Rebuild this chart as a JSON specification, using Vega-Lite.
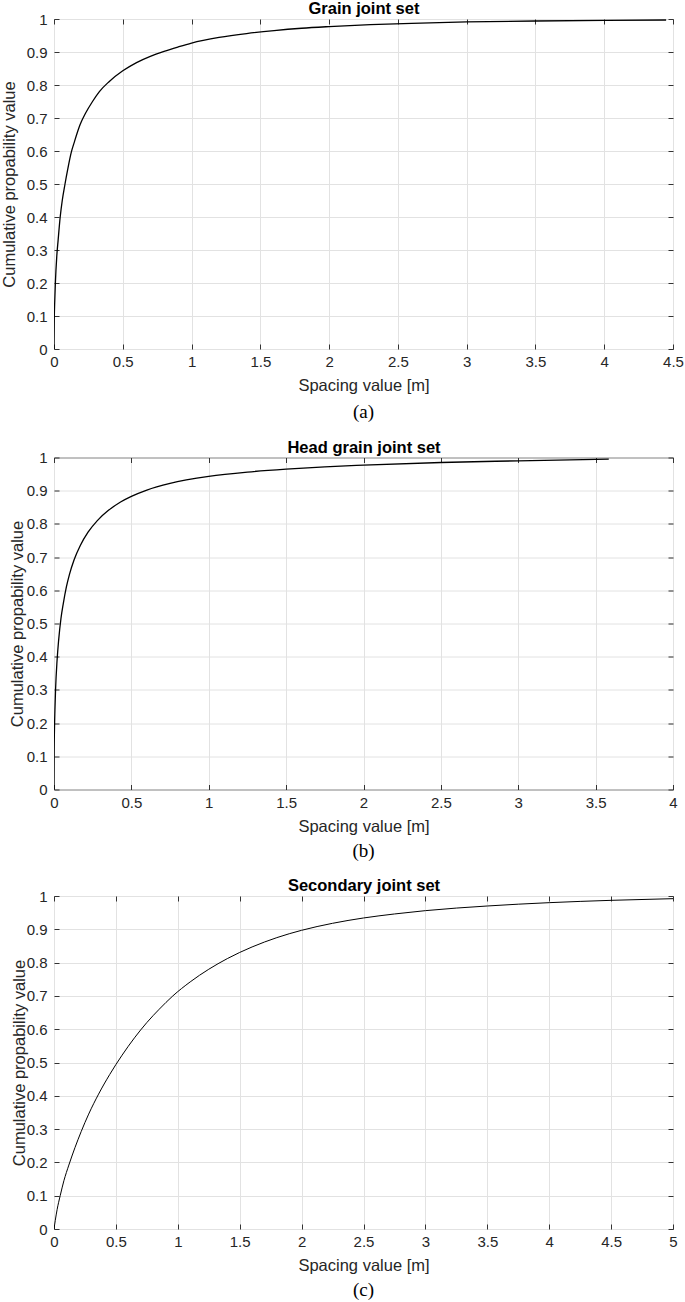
{
  "$schema": "https://vega.github.io/schema/vega-lite/v6.json",
  "background": "white",
  "padding": {"left": 0, "top": 0, "right": 0, "bottom": 0},
  "spacing": 15.5,
  "config": {
    "view": {"stroke": "#404040", "strokeWidth": 1},
    "axis": {
      "domain": false,
      "grid": true,
      "gridColor": "#e2e2e2",
      "gridWidth": 1,
      "tickColor": "#333333",
      "tickSize": -5,
      "tickWidth": 1,
      "labelFont": "Liberation Sans",
      "labelFontSize": 15,
      "labelColor": "#262626",
      "labelPadding": 12,
      "labelFlush": false,
      "labelOverlap": false,
      "titleFont": "Liberation Sans",
      "titleFontSize": 16.5,
      "titleFontWeight": "normal",
      "titleColor": "#262626",
      "minExtent": 0
    },
    "axisX": {"labelPadding": 10.5},
    "title": {"font": "Liberation Serif", "fontSize": 19, "fontWeight": "normal", "color": "#000000", "orient": "bottom", "anchor": "middle", "frame": "group", "offset": 9}
  },
  "datasets": {
    "a": [
      {"s": 0, "p": 0}, {"s": 0.002, "p": 0.09}, {"s": 0.005, "p": 0.14}, {"s": 0.01, "p": 0.2},
      {"s": 0.02, "p": 0.28}, {"s": 0.03, "p": 0.33}, {"s": 0.045, "p": 0.4}, {"s": 0.06, "p": 0.45},
      {"s": 0.08, "p": 0.5}, {"s": 0.1, "p": 0.545}, {"s": 0.125, "p": 0.595}, {"s": 0.15, "p": 0.63},
      {"s": 0.19, "p": 0.68}, {"s": 0.23, "p": 0.715}, {"s": 0.28, "p": 0.75}, {"s": 0.33, "p": 0.78},
      {"s": 0.4, "p": 0.81}, {"s": 0.5, "p": 0.843}, {"s": 0.6, "p": 0.868}, {"s": 0.7, "p": 0.887},
      {"s": 0.8, "p": 0.902}, {"s": 0.9, "p": 0.915}, {"s": 1.0, "p": 0.927}, {"s": 1.2, "p": 0.944},
      {"s": 1.4, "p": 0.956}, {"s": 1.6, "p": 0.965}, {"s": 1.8, "p": 0.972}, {"s": 2.0, "p": 0.977},
      {"s": 2.3, "p": 0.983}, {"s": 2.6, "p": 0.987}, {"s": 3.0, "p": 0.991}, {"s": 3.5, "p": 0.994},
      {"s": 4.0, "p": 0.996}, {"s": 4.45, "p": 0.997}
    ],
    "b": [
      {"s": 0, "p": 0}, {"s": 0.001, "p": 0.11}, {"s": 0.003, "p": 0.18}, {"s": 0.006, "p": 0.24},
      {"s": 0.01, "p": 0.3}, {"s": 0.02, "p": 0.39}, {"s": 0.03, "p": 0.45}, {"s": 0.045, "p": 0.515},
      {"s": 0.06, "p": 0.56}, {"s": 0.08, "p": 0.61}, {"s": 0.1, "p": 0.648}, {"s": 0.13, "p": 0.692},
      {"s": 0.17, "p": 0.735}, {"s": 0.22, "p": 0.775}, {"s": 0.28, "p": 0.81}, {"s": 0.35, "p": 0.84},
      {"s": 0.43, "p": 0.866}, {"s": 0.5, "p": 0.883}, {"s": 0.6, "p": 0.902}, {"s": 0.75, "p": 0.922},
      {"s": 1.0, "p": 0.943}, {"s": 1.25, "p": 0.956}, {"s": 1.5, "p": 0.965}, {"s": 1.75, "p": 0.972},
      {"s": 2.0, "p": 0.977}, {"s": 2.5, "p": 0.985}, {"s": 3.0, "p": 0.99}, {"s": 3.585, "p": 0.995}
    ],
    "c": [
      {"s": 0, "p": 0}, {"s": 0.01, "p": 0.025}, {"s": 0.025, "p": 0.058}, {"s": 0.05, "p": 0.1},
      {"s": 0.08, "p": 0.145}, {"s": 0.12, "p": 0.192}, {"s": 0.17, "p": 0.245}, {"s": 0.22, "p": 0.293},
      {"s": 0.28, "p": 0.345}, {"s": 0.36, "p": 0.405}, {"s": 0.45, "p": 0.464}, {"s": 0.55, "p": 0.522},
      {"s": 0.65, "p": 0.574}, {"s": 0.75, "p": 0.62}, {"s": 0.85, "p": 0.66}, {"s": 0.96, "p": 0.7},
      {"s": 1.1, "p": 0.742}, {"s": 1.25, "p": 0.78}, {"s": 1.4, "p": 0.812}, {"s": 1.6, "p": 0.847},
      {"s": 1.8, "p": 0.875}, {"s": 2.0, "p": 0.897}, {"s": 2.25, "p": 0.918}, {"s": 2.5, "p": 0.934},
      {"s": 2.75, "p": 0.946}, {"s": 3.0, "p": 0.956}, {"s": 3.5, "p": 0.97}, {"s": 4.0, "p": 0.98},
      {"s": 4.5, "p": 0.987}, {"s": 5.0, "p": 0.992}
    ]
  },
  "vconcat": [
    {
      "width": 619,
      "height": 330,
      "title": {"text": "(a)"},
      "data": {"name": "a"},
      "resolve": {"axis": {"x": "independent", "y": "independent"}},
      "layer": [
        {
          "mark": {"type": "line", "color": "#000000", "strokeWidth": 1.3, "interpolate": "monotone", "clip": true},
          "encoding": {
            "x": {"field": "s", "type": "quantitative", "scale": {"domain": [0, 4.5], "nice": false, "zero": false},
                  "axis": {"title": "Spacing value [m]", "values": [0, 0.5, 1, 1.5, 2, 2.5, 3, 3.5, 4, 4.5], "format": "~g", "titlePadding": 8}},
            "y": {"field": "p", "type": "quantitative", "scale": {"domain": [0, 1], "nice": false},
                  "axis": {"title": "Cumulative propability value", "values": [0, 0.1, 0.2, 0.3, 0.4, 0.5, 0.6, 0.7, 0.8, 0.9, 1], "format": "~g", "titleX": -37}}
          }
        },
        {
          "mark": {"type": "line", "strokeOpacity": 0},
          "encoding": {
            "x": {"field": "s", "type": "quantitative",
                  "axis": {"orient": "top", "title": "Grain joint set", "labels": false, "grid": false, "values": [0, 0.5, 1, 1.5, 2, 2.5, 3, 3.5, 4, 4.5], "titleFontWeight": "bold", "titleFontSize": 16.5, "titleColor": "#000000", "titlePadding": 2}},
            "y": {"field": "p", "type": "quantitative",
                  "axis": {"orient": "right", "title": null, "labels": false, "grid": false, "values": [0, 0.1, 0.2, 0.3, 0.4, 0.5, 0.6, 0.7, 0.8, 0.9, 1]}}
          }
        }
      ]
    },
    {
      "width": 619,
      "height": 332,
      "title": {"text": "(b)", "offset": 7},
      "data": {"name": "b"},
      "resolve": {"axis": {"x": "independent", "y": "independent"}},
      "layer": [
        {
          "mark": {"type": "line", "color": "#000000", "strokeWidth": 1.3, "interpolate": "monotone", "clip": true},
          "encoding": {
            "x": {"field": "s", "type": "quantitative", "scale": {"domain": [0, 4], "nice": false, "zero": false},
                  "axis": {"title": "Spacing value [m]", "values": [0, 0.5, 1, 1.5, 2, 2.5, 3, 3.5, 4], "format": "~g", "titlePadding": 8}},
            "y": {"field": "p", "type": "quantitative", "scale": {"domain": [0, 1], "nice": false},
                  "axis": {"title": "Cumulative propability value", "values": [0, 0.1, 0.2, 0.3, 0.4, 0.5, 0.6, 0.7, 0.8, 0.9, 1], "format": "~g", "titleX": -29}}
          }
        },
        {
          "mark": {"type": "line", "strokeOpacity": 0},
          "encoding": {
            "x": {"field": "s", "type": "quantitative",
                  "axis": {"orient": "top", "title": "Head grain joint set", "labels": false, "grid": false, "values": [0, 0.5, 1, 1.5, 2, 2.5, 3, 3.5, 4], "titleFontWeight": "bold", "titleFontSize": 16.5, "titleColor": "#000000", "titlePadding": 2}},
            "y": {"field": "p", "type": "quantitative",
                  "axis": {"orient": "right", "title": null, "labels": false, "grid": false, "values": [0, 0.1, 0.2, 0.3, 0.4, 0.5, 0.6, 0.7, 0.8, 0.9, 1]}}
          }
        }
      ]
    },
    {
      "width": 619,
      "height": 333,
      "title": {"text": "(c)", "offset": 7},
      "data": {"name": "c"},
      "resolve": {"axis": {"x": "independent", "y": "independent"}},
      "layer": [
        {
          "mark": {"type": "line", "color": "#000000", "strokeWidth": 1, "interpolate": "monotone", "clip": true},
          "encoding": {
            "x": {"field": "s", "type": "quantitative", "scale": {"domain": [0, 5], "nice": false, "zero": false},
                  "axis": {"title": "Spacing value [m]", "values": [0, 0.5, 1, 1.5, 2, 2.5, 3, 3.5, 4, 4.5, 5], "format": "~g", "titlePadding": 8}},
            "y": {"field": "p", "type": "quantitative", "scale": {"domain": [0, 1], "nice": false},
                  "axis": {"title": "Cumulative propability value", "values": [0, 0.1, 0.2, 0.3, 0.4, 0.5, 0.6, 0.7, 0.8, 0.9, 1], "format": "~g", "titleX": -27}}
          }
        },
        {
          "mark": {"type": "line", "strokeOpacity": 0},
          "encoding": {
            "x": {"field": "s", "type": "quantitative",
                  "axis": {"orient": "top", "title": "Secondary joint set", "labels": false, "grid": false, "values": [0, 0.5, 1, 1.5, 2, 2.5, 3, 3.5, 4, 4.5, 5], "titleFontWeight": "bold", "titleFontSize": 16.5, "titleColor": "#000000", "titlePadding": 2}},
            "y": {"field": "p", "type": "quantitative",
                  "axis": {"orient": "right", "title": null, "labels": false, "grid": false, "values": [0, 0.1, 0.2, 0.3, 0.4, 0.5, 0.6, 0.7, 0.8, 0.9, 1]}}
          }
        }
      ]
    }
  ]
}
